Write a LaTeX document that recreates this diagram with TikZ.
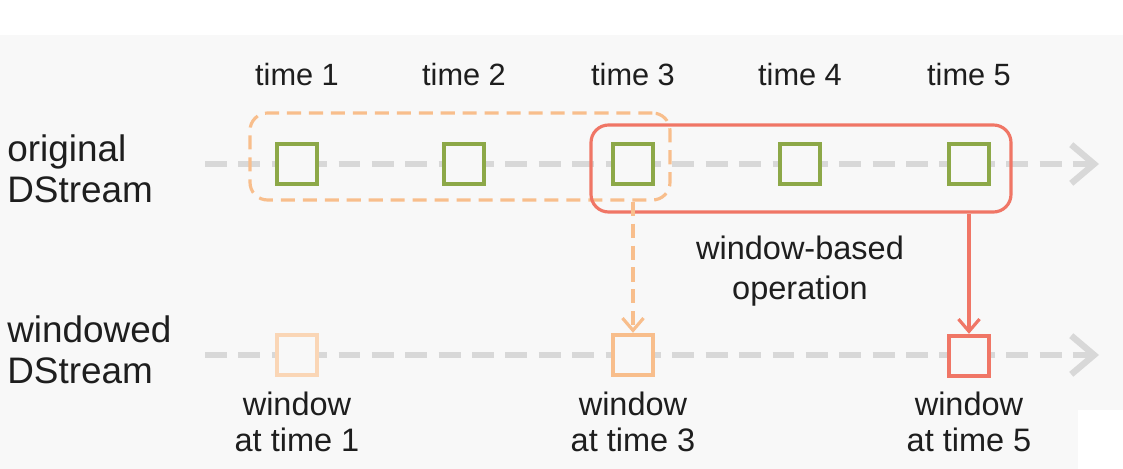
\documentclass[tikz,border=0pt]{standalone}
\usepackage{fontspec}
\setmainfont{Liberation Sans}
\usetikzlibrary{arrows.meta,fit}

\definecolor{bggray}{RGB}{248,248,248}
\definecolor{streamgray}{RGB}{216,216,216}
\definecolor{rddgreen}{RGB}{141,168,72}
\definecolor{winorange}{RGB}{248,190,140}
\definecolor{winpeach}{RGB}{250,214,182}
\definecolor{winred}{RGB}{240,118,102}
\definecolor{txtcol}{RGB}{30,30,30}

\tikzset{
  rdd/.style={draw=#1, line width=2.5pt, fill=bggray, minimum size=0.8cm, inner sep=0pt},
  stream/.style={draw=streamgray, line width=3.4pt, dash pattern=on 12.5pt off 6.5pt,
    -{Straight Barb[length=13pt,width=22pt,line width=3.6pt]}},
  timelbl/.style={text=txtcol, font=\fontsize{17.5}{21}\selectfont},
  sidelbl/.style={text=txtcol, font=\fontsize{21}{23}\selectfont, align=left, anchor=west, inner sep=0pt},
  winlbl/.style={text=txtcol, font=\fontsize{18.5}{20.5}\selectfont, align=center},
  opbox/.style={draw=#1, line width=1.8pt, rounded corners=10pt, inner sep=0pt},
  oparrow/.style={draw=#1, line width=1.8pt, -{Straight Barb[length=7pt,width=12pt,line width=1.8pt]}}
}

\begin{document}
\begin{tikzpicture}[x=0.02cm,y=-0.02cm]
\useasboundingbox (0,0) rectangle (1123,469);
\fill[white] (0,0) rectangle (1123,469);
\fill[bggray] (0,35) rectangle (1123,469);
\fill[white] (1078,410) rectangle (1123,469);

% streams
\coordinate (os) at (205,164);
\coordinate (oe) at (1099,164);
\coordinate (ws) at (205,355);
\coordinate (we) at (1099,355);
\draw[stream] (os) -- (oe);
\draw[stream] (ws) -- (we);

\node[sidelbl] (orig) at (7,169) {original\\DStream};
\node[sidelbl] (wind) at (7,350) {windowed\\DStream};

\node[timelbl] (lt1) at (297,75) {time 1};
\node[timelbl] (lt2) at (464,75) {time 2};
\node[timelbl] (lt3) at (633,75) {time 3};
\node[timelbl] (lt4) at (800,75) {time 4};
\node[timelbl] (lt5) at (969,75) {time 5};

% windows over the original stream
\node[opbox=winorange, dashed, dash pattern=on 8pt off 4.5pt, fit={(250,113) (670,200)}] (win3) {};
\node[opbox=winred, fit={(591,125) (1011,212)}] (win5) {};

\node[rdd=rddgreen] (t1) at (297,164) {};
\node[rdd=rddgreen] (t2) at (464,164) {};
\node[rdd=rddgreen] (t3) at (633,164) {};
\node[rdd=rddgreen] (t4) at (800,164) {};
\node[rdd=rddgreen] (t5) at (969,164) {};

\node[rdd=winpeach] (w1) at (297,355) {};
\node[rdd=winorange] (w3) at (633,355) {};
\node[rdd=winred] (w5) at (969,356) {};

\draw[oparrow=winorange, dash pattern=on 8pt off 4.5pt] (win3.south -| w3) -- (w3.north);
\draw[oparrow=winred] (win5.south -| w5) -- (w5.north);

\node[winlbl, text depth=0pt, font=\fontsize{18.5}{22.7}\selectfont] (op) at (800,268) {window-based\\operation};

\node[winlbl] (lw1) at (297,422) {window\\at time 1};
\node[winlbl] (lw3) at (633,422) {window\\at time 3};
\node[winlbl] (lw5) at (969,422) {window\\at time 5};
\end{tikzpicture}
\end{document}
